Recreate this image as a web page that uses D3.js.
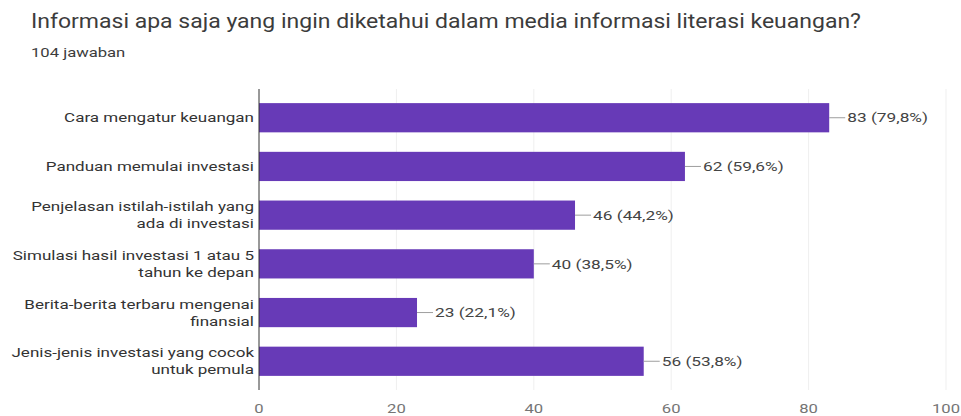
<!DOCTYPE html>
<html>
<head>
<meta charset="utf-8">
<script src="https://cdn.jsdelivr.net/npm/d3@7"></script>
<style>
  html, body { margin: 0; padding: 0; background: #ffffff; }
  svg { display: block; font-family: Roboto, Arial, sans-serif; }
</style>
</head>
<body>
<svg id="chart" width="961" height="416"></svg>
<script>
const title = "Informasi apa saja yang ingin diketahui dalam media informasi literasi keuangan?";
const subtitle = "104 jawaban";

const categories = [
  ["Cara mengatur keuangan"],
  ["Panduan memulai investasi"],
  ["Penjelasan istilah-istilah yang", "ada di investasi"],
  ["Simulasi hasil investasi 1 atau 5", "tahun ke depan"],
  ["Berita-berita terbaru mengenai", "finansial"],
  ["Jenis-jenis investasi yang cocok", "untuk pemula"]
];
const values = [83, 62, 46, 40, 23, 56];
const percents = ["79,8%", "59,6%", "44,2%", "38,5%", "22,1%", "53,8%"];
const ticks = [0, 20, 40, 60, 80, 100];

const svg = d3.select("#chart");
const plotLeft = 259, plotRight = 946, plotTop = 89, plotBottom = 390;
// text in this layout is set slightly wide
const wide = 1.28, labelWide = 1.31, titleWide = 1.18;

const x = d3.scaleLinear().domain([0, 100]).range([plotLeft, plotRight]);
const y = d3.scaleBand()
  .domain(d3.range(categories.length))
  .range([plotTop, plotBottom])
  .paddingInner(0.4)
  .paddingOuter(0.29);

// titles
svg.append("text")
  .attr("transform", `translate(31,28) scale(${titleWide},1)`)
  .attr("font-size", 19.5).attr("fill", "#3c3c3c")
  .text(title);
svg.append("text")
  .attr("transform", `translate(31,57) scale(${wide},1)`)
  .attr("font-size", 13).attr("fill", "#3c3c3c")
  .text(subtitle);

// vertical gridlines
svg.append("g").selectAll("line")
  .data(ticks.slice(1))
  .join("line")
  .attr("x1", d => x(d)).attr("x2", d => x(d))
  .attr("y1", plotTop).attr("y2", plotBottom)
  .attr("stroke", "#efefef").attr("stroke-width", 1);

// tick labels
svg.append("g").selectAll("text")
  .data(ticks)
  .join("text")
  .attr("transform", d => `translate(${x(d)},413) scale(${wide},1)`)
  .attr("text-anchor", "middle")
  .attr("font-size", 13).attr("fill", "#757575")
  .text(d => d);

// bars
svg.append("g").selectAll("rect")
  .data(values)
  .join("rect")
  .attr("x", x(0))
  .attr("y", (d, i) => y(i))
  .attr("width", d => x(d) - x(0))
  .attr("height", y.bandwidth())
  .attr("fill", "#673ab7");

// value labels with leader line
const vl = svg.append("g").selectAll("g")
  .data(values)
  .join("g")
  .attr("transform", (d, i) => `translate(${x(d)},${y(i) + y.bandwidth() / 2})`);
vl.append("line")
  .attr("x1", 0).attr("x2", 16)
  .attr("stroke", "#9e9e9e").attr("stroke-width", 1);
vl.append("text")
  .attr("transform", `translate(18,0) scale(${wide},1)`)
  .attr("dy", "0.35em")
  .attr("font-size", 13.5).attr("fill", "#444444")
  .text((d, i) => `${d} (${percents[i]})`);

// category labels
const cl = svg.append("g").selectAll("text")
  .data(categories)
  .join("text")
  .attr("text-anchor", "end")
  .attr("font-size", 13).attr("fill", "#333333")
  .attr("transform", (d, i) => `translate(${plotLeft - 5},${y(i) + y.bandwidth() / 2}) scale(${labelWide},1)`);
cl.selectAll("tspan")
  .data(d => d.map((t, j) => ({ t, j, n: d.length })))
  .join("tspan")
  .attr("x", 0)
  .attr("y", d => (d.j - (d.n - 1) / 2) * 17)
  .attr("dy", "0.35em")
  .text(d => d.t);

// axis line
svg.append("line")
  .attr("x1", plotLeft).attr("x2", plotLeft)
  .attr("y1", plotTop).attr("y2", plotBottom)
  .attr("stroke", "#333333").attr("stroke-width", 1);
</script>
</body>
</html>
